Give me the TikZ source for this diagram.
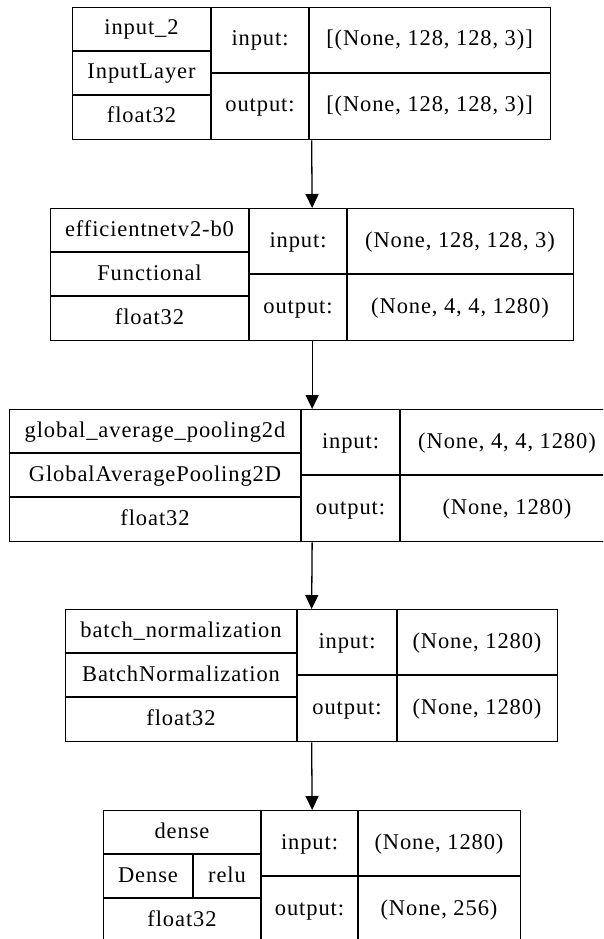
\documentclass[tikz,border=0pt]{standalone}
\usepackage{fontspec}
\setmainfont{Liberation Serif}[LetterSpace = 4]
\usetikzlibrary{arrows.meta}

\tikzset{
	rule/.style = {draw, line width = 1.3pt},
	frame/.style = {rule, inner sep = 0pt, anchor = north west},
	cell/.style = {inner sep = 0pt, text height = 16pt, text depth = 4pt, font = \fontsize{22.5}{27}\selectfont}
}

% A layer record: id, left, top, the three column widths, then name, class and dtype
\newcommand{\layer}[9]{
	\pgfmathsetmacro{\recwidth}{#4 + #5 + #6}
	\node [frame, minimum width = \recwidth pt, minimum height = 132pt] (#1) at (#2, #3) {};
	\draw [rule] (#2 + #4, #3) -- ++(0, 132);
	\draw [rule] (#2 + #4 + #5, #3) -- ++(0, 132);
	\draw [rule] (#2, #3 + 44) -- ++(#4, 0);
	\draw [rule] (#2, #3 + 88) -- ++(#4, 0);
	\draw [rule] (#2 + #4, #3 + 66) -- ++(#5 + #6, 0);
	\node [cell] (#1-name) at (#2 + #4 / 2, #3 + 22) {#7};
	\node [cell] (#1-class) at (#2 + #4 / 2, #3 + 66) {#8};
	\node [cell] (#1-dtype) at (#2 + #4 / 2, #3 + 110) {#9};
	\node [cell] (#1-inlabel) at (#2 + #4 + #5 / 2, #3 + 33) {input:};
	\node [cell] (#1-outlabel) at (#2 + #4 + #5 / 2, #3 + 99) {output:};
	\coordinate (#1-in) at (#2 + #4 + #5 + #6 / 2, #3 + 33);
	\coordinate (#1-out) at (#2 + #4 + #5 + #6 / 2, #3 + 99);
}

\begin{document}
\begin{tikzpicture}[x = 1pt, y = -1pt, > = {Triangle[length = 14pt, width = 13pt]}]

	\useasboundingbox (0, 0) rectangle (603, 939);
	\clip (0, 0) rectangle (603, 939);

	% Layers

	\layer{l1}{72}{7}{139}{98}{241}{input\_2}{InputLayer}{float32}
	\node [cell] (l1-inshape) at (l1-in) {[(None, 128, 128, 3)]};
	\node [cell] (l1-outshape) at (l1-out) {[(None, 128, 128, 3)]};

	\layer{l2}{50}{208}{199}{98}{226}{efficientnetv2-b0}{Functional}{float32}
	\node [cell] (l2-inshape) at (l2-in) {(None, 128, 128, 3)};
	\node [cell] (l2-outshape) at (l2-out) {(None, 4, 4, 1280)};

	\layer{l3}{9}{409}{292}{99}{214}{global\_average\_pooling2d}{GlobalAveragePooling2D}{float32}
	\node [cell] (l3-inshape) at (l3-in) {(None, 4, 4, 1280)};
	\node [cell] (l3-outshape) at (l3-out) {(None, 1280)};

	\layer{l4}{65}{609}{232}{100}{160}{batch\_normalization}{BatchNormalization}{float32}
	\node [cell] (l4-inshape) at (l4-in) {(None, 1280)};
	\node [cell] (l4-outshape) at (l4-out) {(None, 1280)};

	\layer{l5}{103}{810}{158}{97}{162}{dense}{}{float32}
	\node [cell] (l5-inshape) at (l5-in) {(None, 1280)};
	\node [cell] (l5-outshape) at (l5-out) {(None, 256)};

	% Class and activation share the middle row of the last record

	\draw [rule] (193, 854) -- (193, 898);
	\node [cell] (l5-kind) at (148, 876) {Dense};
	\node [cell] (l5-act) at (227, 876) {relu};

	% Data flow

	\draw [->, rule] (l1.south) -- (l2.north);
	\draw [->, rule] (l2.south) -- (l3.north);
	\draw [->, rule] (l3.south) -- (l4.north);
	\draw [->, rule] (l4.south) -- (l5.north);

\end{tikzpicture}
\end{document}
